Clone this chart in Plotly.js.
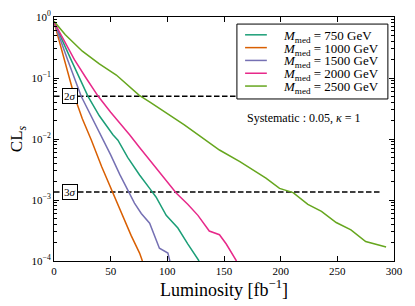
<!DOCTYPE html>
<html>
<head>
<meta charset="utf-8">
<script src="https://cdn.plot.ly/plotly-3.0.1.min.js"></script>
<style>html,body{margin:0;padding:0;background:#fff}#chart{width:415px;height:306px}</style>
</head>
<body>
<div id="chart"></div>
<script>
// Series data (luminosity in fb^-1, CLs)
const seriesNames = ["<i>M</i><sub>med</sub> = 750 GeV", "<i>M</i><sub>med</sub> = 1000 GeV", "<i>M</i><sub>med</sub> = 1500 GeV", "<i>M</i><sub>med</sub> = 2000 GeV", "<i>M</i><sub>med</sub> = 2500 GeV"];
const colors = ["#1b9e77", "#d95f02", "#7570b3", "#e7298a", "#66a61e"];

const lumi750 = [0, 7, 15, 30, 40, 52, 56.4, 65, 75.5, 84.4, 90, 99, 109.3, 118, 128];
const cls750 = [0.832, 0.417, 0.200, 0.0501, 0.0240, 0.01175, 0.00955, 0.00501, 0.00257, 0.00155, 0.00112, 5.6e-4, 3.47e-4, 1.91e-4, 1.0e-4];

const lumi1000 = [0, 5, 10, 18, 25, 33, 42, 52, 60, 68, 75.5, 78];
const cls1000 = [0.832, 0.380, 0.182, 0.0501, 0.0214, 0.00955, 0.00355, 0.00129, 5.6e-4, 2.63e-4, 1.35e-4, 1.0e-4];

const lumi1500 = [0, 6, 12, 24, 33, 42, 50, 58, 66.7, 71, 77, 84.4, 93, 100.5, 102.5];
const cls1500 = [0.832, 0.398, 0.200, 0.0501, 0.0234, 0.0115, 0.0055, 0.00263, 0.00129, 8.9e-4, 6.0e-4, 4.17e-4, 1.62e-4, 1.35e-4, 9.5e-5];

const lumi2000 = [0, 8, 18, 28, 39, 50, 60, 66.7, 75.5, 85, 97, 108, 118, 127, 137, 146, 152, 161];
const cls2000 = [0.832, 0.437, 0.200, 0.102, 0.0501, 0.0275, 0.0166, 0.01175, 0.00724, 0.00437, 0.0024, 0.00129, 8.5e-4, 5.6e-4, 3.1e-4, 2.7e-4, 1.9e-4, 1.0e-4];

const lumi2500 = [0, 10, 25, 40, 55, 75, 85, 100, 115, 127, 134, 146, 164, 187, 199, 211, 224, 236, 249, 262, 275, 293];
const cls2500 = [0.851, 0.513, 0.275, 0.170, 0.112, 0.0525, 0.0398, 0.0263, 0.0170, 0.01175, 0.00955, 0.0066, 0.00427, 0.00229, 0.00155, 0.00132, 8.5e-4, 6.5e-4, 4.27e-4, 3.24e-4, 2.09e-4, 1.7e-4];

// Reference significance levels
const sigmaLabels = ["2<i>σ</i>", "3<i>σ</i>"];
const sigmaLevels = [0.05, 0.00135];
const sigmaLineX = [0, 288];
const sigmaLabelX = 14;

const xTicks = [0, 50, 100, 150, 200, 250, 300];
const yTicks = [1e-4, 1e-3, 1e-2, 1e-1, 1];
const yTickText = ["10<sup>−4</sup>", "10<sup>−3</sup>", "10<sup>−2</sup>", "10<sup>−1</sup>", "10<sup>0</sup>"];

const lumis = [lumi750, lumi1000, lumi1500, lumi2000, lumi2500];
const clss = [cls750, cls1000, cls1500, cls2000, cls2500];

const font = "Liberation Serif, DejaVu Serif, serif";

const traces = [];
sigmaLevels.forEach(function (lvl) {
  traces.push({
    x: sigmaLineX, y: [lvl, lvl], mode: "lines", showlegend: false, hoverinfo: "skip",
    line: {color: "#000", width: 1.5, dash: "5.5px,2.5px"}
  });
});
for (let i = 0; i < 5; i++) {
  traces.push({
    x: lumis[i], y: clss[i], mode: "lines", name: seriesNames[i], showlegend: false,
    line: {color: colors[i], width: 1.5}
  });
}

const annotations = sigmaLabels.map(function (t, i) {
  return {
    x: sigmaLabelX, y: Math.log10(sigmaLevels[i]), xref: "x", yref: "y", text: t, showarrow: false,
    font: {family: font, size: 11, color: "#000"}, bgcolor: "#fff", bordercolor: "#000", borderwidth: 1, borderpad: 1
  };
});
annotations.push({
  x: 221, y: Math.log10(0.0221), xref: "x", yref: "y", showarrow: false,
  text: "Systematic : 0.05, <i>κ</i> = 1", font: {family: font, size: 12, color: "#000"}
});

// Legend box (compact, matplotlib-style) built from the series names/colours
const shapes = [{
  type: "rect", xref: "paper", yref: "paper", x0: 0.538, x1: 0.982, y0: 0.664, y1: 0.971,
  line: {color: "#000", width: 1}, fillcolor: "#fff", layer: "above"
}];
for (let i = 0; i < 5; i++) {
  const yy = 0.927 - i * 0.0525;
  shapes.push({
    type: "line", xref: "paper", yref: "paper", x0: 0.562, x1: 0.626, y0: yy, y1: yy,
    line: {color: colors[i], width: 1.5}, layer: "above"
  });
  annotations.push({
    xref: "paper", yref: "paper", x: 0.668, y: yy - 0.006, xanchor: "left", yanchor: "middle",
    text: seriesNames[i], showarrow: false, font: {family: font, size: 13, color: "#000"}
  });
}

const layout = {
  width: 415, height: 306,
  margin: {l: 54, r: 21, t: 17, b: 45},
  paper_bgcolor: "#fff", plot_bgcolor: "#fff",
  font: {family: font, color: "#000", size: 11},
  showlegend: false,
  xaxis: {
    range: [0, 300], tickvals: xTicks, ticks: "inside", ticklen: 5, tickcolor: "#000",
    showline: true, linecolor: "#000", linewidth: 1, mirror: "allticks", showgrid: false, zeroline: false,
    tickfont: {family: font, size: 11, color: "#000"},
    title: {text: "Luminosity [fb<sup>−1</sup>]", font: {family: font, size: 18, color: "#000"}, standoff: 5}
  },
  yaxis: {
    type: "log", range: [-4, 0], tickvals: yTicks, ticktext: yTickText, ticks: "inside", ticklen: 5, tickcolor: "#000",
    showline: true, linecolor: "#000", linewidth: 1, mirror: "allticks", showgrid: false, zeroline: false,
    minor: {ticks: "inside", ticklen: 3, tickcolor: "#000", showgrid: false, dtick: "D1"},
    tickfont: {family: font, size: 11, color: "#000"},
    title: {text: "CL<sub><i>s</i></sub>", font: {family: font, size: 17, color: "#000"}, standoff: 4}
  },
  shapes: shapes,
  annotations: annotations
};

Plotly.newPlot("chart", traces, layout, {staticPlot: true, displayModeBar: false});
</script>
</body>
</html>
